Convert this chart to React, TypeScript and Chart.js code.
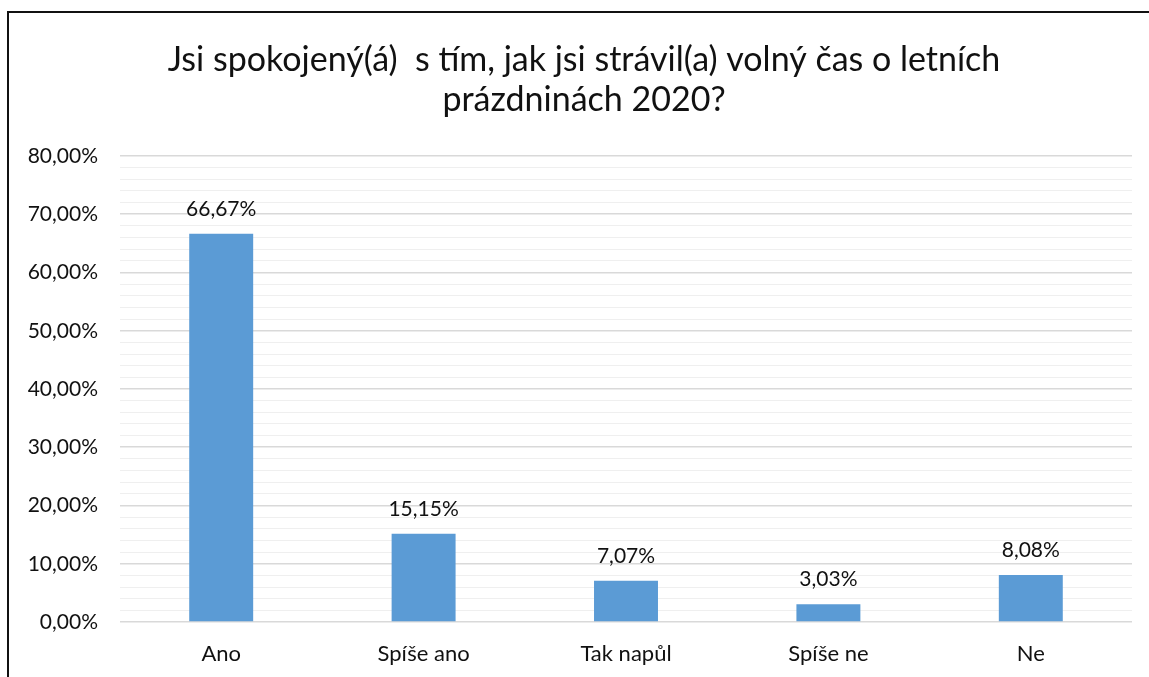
import React, { useEffect, useRef } from "react";
import { Chart, registerables } from "chart.js";

Chart.register(...registerables);

const categories = ["Ano", "Spíše ano", "Tak napůl", "Spíše ne", "Ne"];
const values = [66.67, 15.15, 7.07, 3.03, 8.08];
const titleLines = [
  "Jsi spokojený(á)  s tím, jak jsi strávil(a) volný čas o letních",
  "prázdninách 2020?",
];

const FONT = "Lato, 'Open Sans', sans-serif";
const fmt = (v: number) => v.toFixed(2).replace(".", ",") + "%";

const framePlugin = {
  id: "frame",
  afterDraw(chart: any) {
    const ctx = chart.ctx;
    ctx.save();
    ctx.fillStyle = "#111";
    ctx.fillRect(7, 11, 2, chart.height);
    ctx.fillRect(7, 11, chart.width, 2);
    ctx.restore();
  },
};

const titlePlugin = {
  id: "customTitle",
  afterDraw(chart: any) {
    const ctx = chart.ctx;
    ctx.save();
    ctx.font = `34px ${FONT}`;
    ctx.fillStyle = "#111";
    ctx.textAlign = "center";
    ctx.textBaseline = "middle";
    titleLines.forEach((line, i) => {
      ctx.fillText(line, 584, 60 + i * 40);
    });
    ctx.restore();
  },
};

const labelPlugin = {
  id: "barLabels",
  afterDatasetsDraw(chart: any) {
    const ctx = chart.ctx;
    const meta = chart.getDatasetMeta(0);
    ctx.save();
    ctx.font = `21px ${FONT}`;
    ctx.fillStyle = "#111";
    ctx.textAlign = "center";
    ctx.textBaseline = "alphabetic";
    meta.data.forEach((bar: any, i: number) => {
      ctx.fillText(fmt(values[i]), bar.x, bar.y - 18);
    });
    ctx.restore();
  },
};

export default function App() {
  const ref = useRef<HTMLCanvasElement>(null);
  useEffect(() => {
    if (!ref.current) return;
    const chart = new Chart(ref.current, {
      type: "bar",
      data: {
        labels: categories,
        datasets: [
          {
            data: values,
            backgroundColor: "#5b9bd5",
            borderWidth: 0,
            barPercentage: 0.316,
            categoryPercentage: 1,
          },
        ],
      },
      options: {
        responsive: false,
        animation: false,
        devicePixelRatio: 1,
        layout: { padding: { left: 10, right: 17, top: 156, bottom: 0 } },
        plugins: {
          legend: { display: false },
          tooltip: { enabled: false },
          title: { display: false },
        },
        scales: {
          x: {
            afterFit(scale: any) {
              scale.height = 55;
            },
            grid: { display: false, drawTicks: false },
            border: { display: false },
            ticks: { color: "#111", font: { family: FONT, size: 22 }, padding: 19 },
          },
          y: {
            min: 0,
            max: 80,
            afterFit(scale: any) {
              scale.width = 110;
            },
            border: { display: false },
            grid: {
              drawTicks: false,
              color: (c: any) => (c.tick && c.tick.value % 10 === 0 ? "#d9d9d9" : "#efefef"),
              lineWidth: (c: any) => (c.tick && c.tick.value % 10 === 0 ? 1.6 : 1),
            },
            ticks: {
              stepSize: 2,
              autoSkip: false,
              padding: 22,
              color: "#111",
              font: { family: FONT, size: 21 },
              callback: (v: any) => (Number(v) % 10 === 0 ? fmt(Number(v)) : ""),
            },
          },
        },
      },
      plugins: [labelPlugin, titlePlugin, framePlugin],
    });
    return () => chart.destroy();
  }, []);
  return (
    <canvas
      ref={ref}
      width={1149}
      height={677}
      style={{ position: "fixed", left: 0, top: 0, width: 1149, height: 677 }}
    />
  );
}
